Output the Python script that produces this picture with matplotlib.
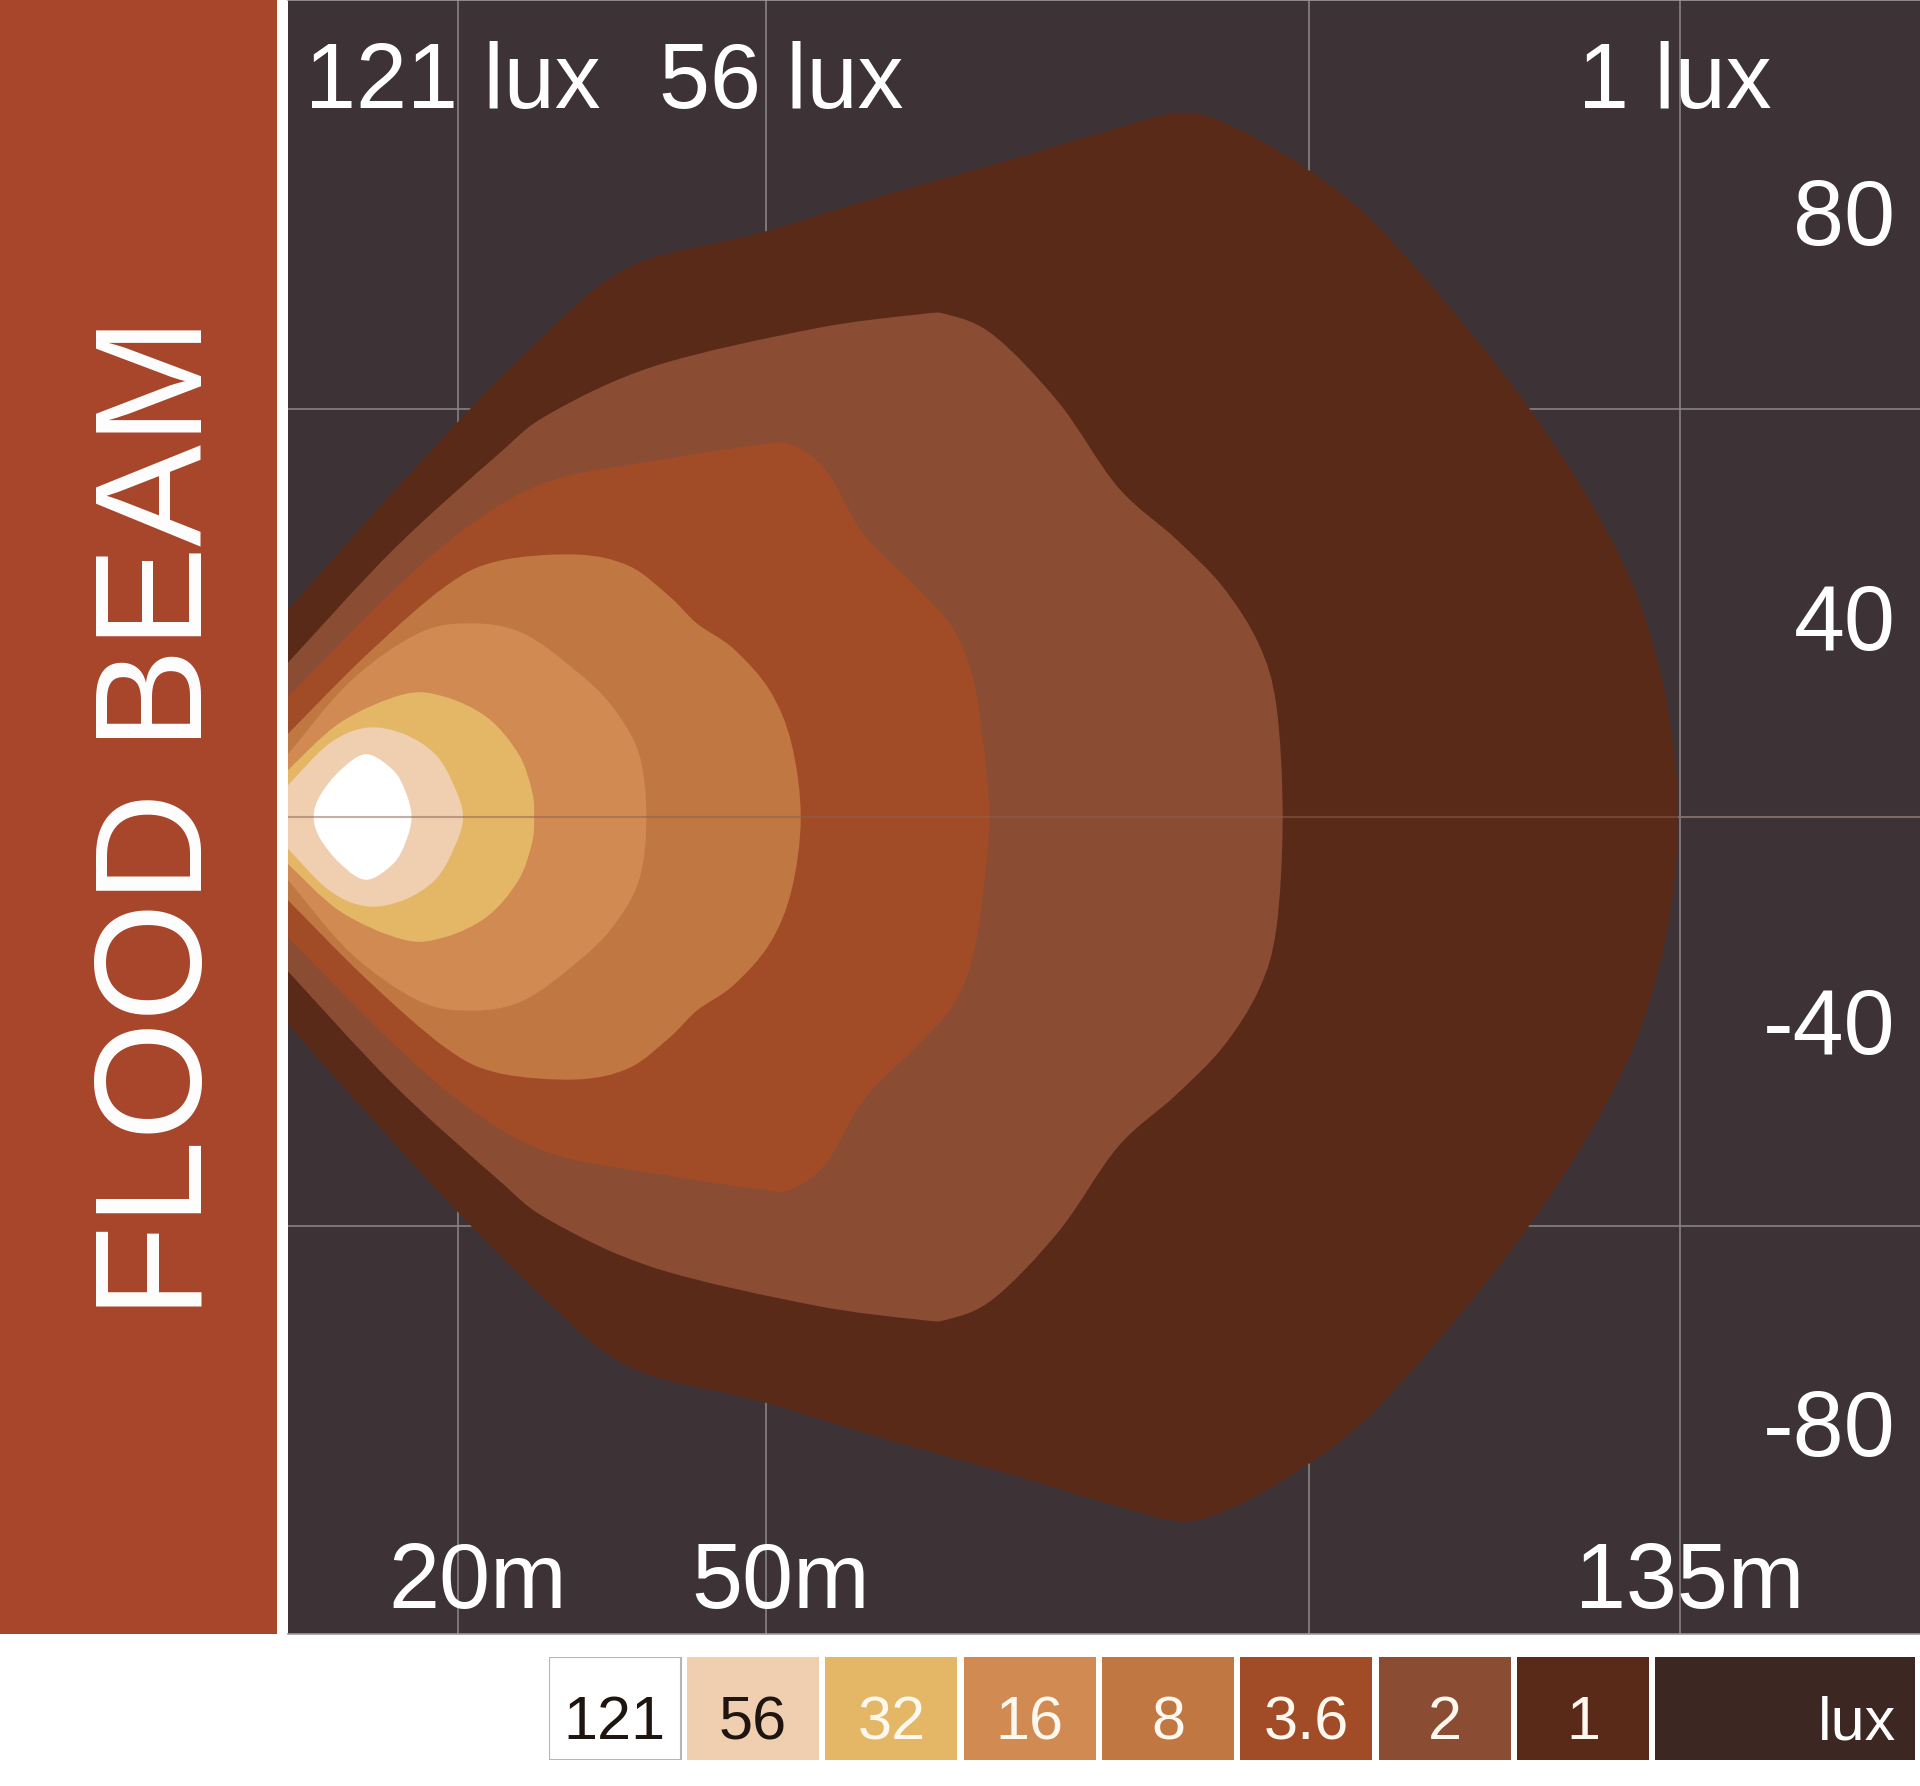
import numpy as np
import matplotlib.pyplot as plt
from matplotlib.path import Path
from matplotlib.patches import PathPatch

plt.rcParams['font.family'] = ['Liberation Sans', 'DejaVu Sans']

# --- DATOS ---
lux_levels = ["121", "56", "32", "16", "8", "3.6", "2", "1"]
lux_colors = ["#FFFFFF", "#EFCFAF", "#E4B767", "#D28A53",
              "#C07741", "#A24C27", "#8A4D33", "#5A2A19"]

# contornos (mitad superior): distancia (m) y ancho lateral, del borde a la punta
lux1_x = [0, 7.7, 17.8, 25.6, 30.6, 35.6, 45.8, 57.7, 69.2, 79.1, 86.8,
          92.2, 98.8, 104.0, 109.0, 114.7, 120.5, 126.2, 130.7, 133.5, 134.7, 135.0]
lux1_y = [27.4, 39.2, 54.1, 64.6, 70.6, 74.0, 77.2, 82.1, 86.5, 90.5, 93.1,
          91.0, 85.8, 80.5, 73.4, 64.3, 54.1, 42.3, 30.4, 18.0, 7.6, 0]

lux2_x = [0, 10.2, 20.3, 25.4, 35.6, 50.9, 61.0, 64.1, 68.6, 74.9, 80.6,
          86.2, 90.8, 94.3, 96.0, 96.6]
lux2_y = [20.4, 35.3, 47.8, 53.3, 59.6, 64.5, 66.4, 66.4, 63.6, 54.7, 43.6,
          36.8, 30.4, 22.8, 14.6, 0]

lux3_6_x = [0, 10.1, 17.8, 25.4, 35.6, 45.8, 48.9, 52.3, 55.9, 61.0, 64.6, 66.6, 67.7, 68.1]
lux3_6_y = [15.9, 29.8, 38.7, 44.4, 47.1, 49.2, 49.2, 45.7, 37.4, 30.4, 24.9, 18.0, 7.6, 0]

lux8_x = [0, 7.6, 15.2, 20.3, 27.9, 33.1, 37.1, 39.7, 43.3, 46.8, 48.9, 49.8]
lux8_y = [11.0, 21.4, 30.4, 33.8, 34.7, 33.2, 29.1, 25.6, 22.2, 16.7, 9.7, 0]

lux16_x = [0, 6.1, 12.7, 17.8, 22.8, 27.9, 31.5, 34.1, 34.8]
lux16_y = [8.3, 18.0, 24.3, 25.6, 24.3, 19.4, 14.6, 8.3, 0]

lux32_x = [0, 5.1, 11.2, 15.2, 19.4, 22.4, 23.7, 23.9]
lux32_y = [6.2, 12.5, 16.2, 15.9, 13.1, 8.3, 3.4, 0]

lux56_x = [0, 4.0, 7.6, 11.2, 14.3, 16.1, 17.0]
lux56_y = [4.2, 9.7, 11.8, 11.0, 8.3, 4.2, 0]

lux121_x = [2.5, 3.1, 5.1, 7.6, 10.2, 11.4, 12.0]
lux121_y = [0, 2.8, 6.2, 8.3, 6.2, 3.4, 0]

grid_x = [16.5, 46.4, 99.2, 135.2]
grid_y = [-54, 54]

top_labels = ["121 lux", "56 lux", "1 lux"]
dist_labels = ["20m", "50m", "135m"]
side_labels = ["80", "40", "-40", "-80"]
legend_labels = lux_levels + ["lux"]

# posiciones de texto (fraccion de ejes)
top_pos = [0.101, 0.302, 0.850]
dist_pos = [0.116, 0.302, 0.859]
side_pos = [0.850, 0.6024, 0.3548, 0.1088]

BG = "#3D3236"
RED = "#A8462B"
GRID = "#8E8789"


def smooth_path(xs, ys, closed=False):
    """Curva Catmull-Rom convertida a Bezier cubica"""
    pts = np.column_stack([xs, ys])
    n = len(pts)
    if closed:
        ext = np.vstack([pts[-1], pts, pts[0], pts[1]])
        segs = n
    else:
        ext = np.vstack([pts[0], pts, pts[-1]])
        segs = n - 1
    verts = [ext[1]]
    codes = [Path.MOVETO]
    for i in range(segs):
        p0, p1, p2, p3 = ext[i], ext[i + 1], ext[i + 2], ext[i + 3]
        verts += [p1 + (p2 - p0) / 6, p2 - (p3 - p1) / 6, p2]
        codes += [Path.CURVE4] * 3
    verts.append(ext[1])
    codes.append(Path.CLOSEPOLY)
    return Path(verts, codes)


def mirror(x, y, closed=False):
    x = np.asarray(x, float)
    y = np.asarray(y, float)
    if closed:
        return np.r_[x, x[-2:0:-1]], np.r_[y, -y[-2:0:-1]]
    return np.r_[x, x[-2::-1]], np.r_[y, -y[-2::-1]]


fig = plt.figure(figsize=(19.2, 17.86), dpi=100, facecolor="white")

# --- BANDA ROJA ---
ax_band = fig.add_axes([0, 1 - 1634 / 1786, 277 / 1920, 1634 / 1786])
ax_band.set_facecolor(RED)
ax_band.set_xticks([])
ax_band.set_yticks([])
for s in ax_band.spines.values():
    s.set_visible(False)
ax_band.text(0.73, 0.5, "FLOOD BEAM", rotation=90, rotation_mode="anchor",
             ha="center", va="baseline", fontsize=110, color="white",
             transform=ax_band.transAxes)

# --- PATRON DEL HAZ ---
ax = fig.add_axes([288 / 1920, 1 - 1634 / 1786, 1632 / 1920, 1634 / 1786])
ax.set_facecolor(BG)
ax.set_xlim(0, 158.5)
ax.set_ylim(-108, 108)
ax.set_xticks([])
ax.set_yticks([])
for side in ["left", "right"]:
    ax.spines[side].set_visible(False)
for side in ["top", "bottom"]:
    ax.spines[side].set_color("#A09A9C")
    ax.spines[side].set_linewidth(1.2)

for gx in grid_x:
    ax.axvline(gx, color=GRID, lw=1.1, zorder=1)
for gy in grid_y + [0]:
    ax.axhline(gy, color=GRID, lw=1.1, zorder=1)

# de 1 lux (el mayor) a 121 lux (el menor)
outlines = [
    (lux1_x, lux1_y, False),
    (lux2_x, lux2_y, False),
    (lux3_6_x, lux3_6_y, False),
    (lux8_x, lux8_y, False),
    (lux16_x, lux16_y, False),
    (lux32_x, lux32_y, False),
    (lux56_x, lux56_y, False),
    (lux121_x, lux121_y, True),
]
for (ox, oy, closed), color, z in zip(outlines, lux_colors[::-1], range(2, 10)):
    xs, ys = mirror(ox, oy, closed)
    patch = PathPatch(smooth_path(xs, ys, closed), facecolor=color,
                      edgecolor="none", zorder=z)
    ax.add_patch(patch)

ax.axhline(0, color="#8A6050", alpha=0.5, lw=1.5, zorder=12)

txt = dict(color="white", fontsize=66, transform=ax.transAxes, zorder=20)
for label, px in zip(top_labels, top_pos):
    ax.text(px, 0.934, label, ha="center", va="baseline", **txt)
for label, px in zip(dist_labels, dist_pos):
    ax.text(px, 0.016, label, ha="center", va="baseline", **txt)
for label, py in zip(side_labels, side_pos):
    ax.text(0.985, py, label, ha="right", va="baseline", **txt)

# --- LEYENDA ---
ax_leg = fig.add_axes([548.6 / 1920, 26.4 / 1786, 1367.4 / 1920, 102.9 / 1786])
n_box = len(legend_labels)
lefts = np.arange(n_box)
widths = [0.955] * (n_box - 1) + [1.876]
leg_colors = lux_colors + ["#3D2723"]
edges = ["#B5B5B5"] + ["none"] * (n_box - 1)
ax_leg.bar(lefts, 1, width=widths, align="edge", color=leg_colors,
           edgecolor=edges, linewidth=1.5)
ax_leg.set_xlim(0, 9.885)
ax_leg.set_ylim(0, 1)
ax_leg.axis("off")
for i, label in enumerate(legend_labels):
    dark = i < 2
    if label == "lux":
        ax_leg.text(9.74, 0.2, label, ha="right", va="baseline", fontsize=44,
                    color="white")
    else:
        ax_leg.text(i + 0.4775, 0.2, label, ha="center", va="baseline", fontsize=44,
                    color="#1E1410" if dark else "#FFF8EE")

fig.savefig("out.png", dpi=100, facecolor="white")
